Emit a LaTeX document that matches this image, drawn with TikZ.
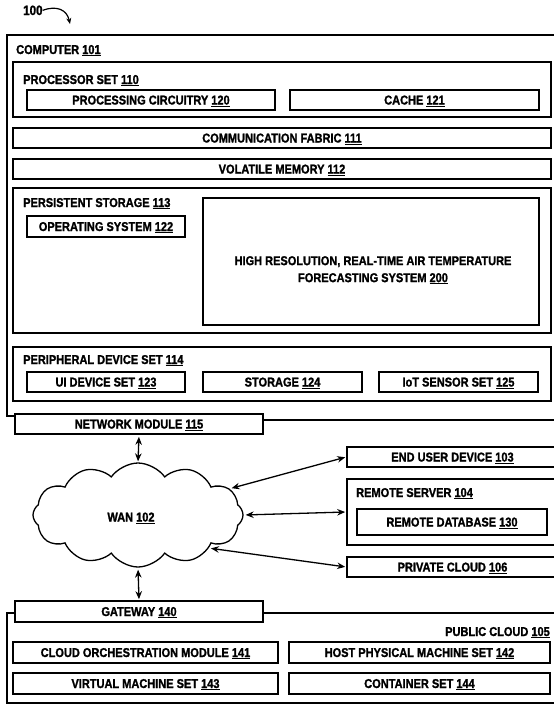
\documentclass[tikz,border=0pt]{standalone}
\usepackage{fontspec}
\setmainfont{Liberation Sans}[FakeStretch=0.86, BoldFeatures={FakeBold=1.4}]
\usetikzlibrary{shapes.symbols,arrows.meta}
\newcommand\refnum[1]{\underline{#1}}
\newcommand\lblfont{\fontsize{12.8}{17}\selectfont\bfseries}
\begin{document}
\begin{tikzpicture}[x=1pt,y=-1pt,
  frame/.style={line width=1.6pt},
  box/.style={draw, line width=1.6pt, inner sep=0pt, font=\lblfont,
    text height=9pt, text depth=0pt},
  head/.style={font=\lblfont, inner sep=0pt, anchor=base west},
  link/.style={{Stealth[length=8pt,width=6.5pt]}-{Stealth[length=8pt,width=6.5pt]},
    line width=1.3pt, shorten <=2pt, shorten >=1pt}]
\clip (0,0) rectangle (554,704);
\fill[white] (0,0) rectangle (554,704);

% figure reference
\node[head, font=\fontsize{13.5}{17}\selectfont\bfseries] (fig) at (23,15) {100};
\coordinate (figtip) at (70,24);
\draw[line width=1.2pt, -{Stealth[length=6pt,width=5pt]}]
  (fig.east) .. controls (57,5) and (67,10) .. (figtip);

% computer 101
\draw[frame] (15,416) -- (7,416) -- (7,35) -- (560,35);
\draw[frame] (263,420) -- (560,420);
\node[head] (comp) at (16,54) {COMPUTER \refnum{101}};

% processor set
\node[box, minimum width=538pt, minimum height=55pt] (procset) at (282,89.5) {};
\node[head] (procsetlbl) at (23,84) {PROCESSOR SET \refnum{110}};
\node[box, minimum width=248pt, minimum height=20pt] (circ) at (151,100) {PROCESSING CIRCUITRY \refnum{120}};
\node[box, minimum width=249pt, minimum height=20pt] (cache) at (414.5,100) {CACHE \refnum{121}};

\node[box, minimum width=538pt, minimum height=20pt] (fabric) at (282,138) {COMMUNICATION FABRIC \refnum{111}};
\node[box, minimum width=538pt, minimum height=20pt] (volatile) at (282,169) {VOLATILE MEMORY \refnum{112}};

% persistent storage
\node[box, minimum width=538pt, minimum height=145pt] (persist) at (282,260.5) {};
\node[head] (persistlbl) at (23,207) {PERSISTENT STORAGE \refnum{113}};
\node[box, minimum width=158pt, minimum height=21pt] (os) at (106,226.5) {OPERATING SYSTEM \refnum{122}};
\node[box, minimum width=336pt, minimum height=127pt] (forecast) at (371,261.5) {};
\node[font=\lblfont, inner sep=0pt, align=center, anchor=north] (forecastlbl) at (373,256)
  {HIGH RESOLUTION, REAL-TIME AIR TEMPERATURE\\FORECASTING SYSTEM \refnum{200}};

% peripheral device set
\node[box, minimum width=538pt, minimum height=54pt] (periph) at (282,374) {};
\node[head] (periphlbl) at (23,364) {PERIPHERAL DEVICE SET \refnum{114}};
\node[box, minimum width=158pt, minimum height=20pt] (ui) at (106,382) {UI DEVICE SET \refnum{123}};
\node[box, minimum width=159pt, minimum height=20pt] (storage) at (282.5,382) {STORAGE \refnum{124}};
\node[box, minimum width=159pt, minimum height=20pt] (iot) at (458.5,382) {IoT SENSOR SET \refnum{125}};

\node[box, minimum width=248pt, minimum height=20pt] (netmod) at (139,424) {NETWORK MODULE \refnum{115}};

% wide area network
\node[cloud, draw, line width=1.3pt, cloud puffs=12, cloud puff arc=110, aspect=2.05,
  minimum width=210pt, minimum height=104pt, inner sep=0pt] (wan) at (138,515) {};
\node[font=\lblfont, inner sep=0pt, text height=9pt, text depth=0pt] (wanlbl) at (131,517) {WAN \refnum{102}};

% remote systems
\node[box, minimum width=211pt, minimum height=20pt] (enduser) at (452.5,457) {END USER DEVICE \refnum{103}};
\node[box, minimum width=211pt, minimum height=66pt] (remote) at (452.5,512) {};
\node[head] (remotelbl) at (356,497) {REMOTE SERVER \refnum{104}};
\node[box, minimum width=190pt, minimum height=26pt] (remotedb) at (452,522) {REMOTE DATABASE \refnum{130}};
\node[box, minimum width=211pt, minimum height=20pt] (private) at (452.5,567) {PRIVATE CLOUD \refnum{106}};

% public cloud 105
\node[box, minimum width=248pt, minimum height=21pt] (gateway) at (139,611.5) {GATEWAY \refnum{140}};
\draw[frame] (15,613) -- (7,613) -- (7,703) -- (560,703);
\draw[frame] (263,613) -- (560,613);
\node[font=\lblfont, inner sep=0pt, anchor=base east] (publbl) at (550,636) {PUBLIC CLOUD \refnum{105}};
\node[box, minimum width=265pt, minimum height=21pt] (orch) at (145.5,652.5) {CLOUD ORCHESTRATION MODULE \refnum{141}};
\node[box, minimum width=261pt, minimum height=21pt] (host) at (419.5,652.5) {HOST PHYSICAL MACHINE SET \refnum{142}};
\node[box, minimum width=265pt, minimum height=21pt] (vm) at (145.5,683.5) {VIRTUAL MACHINE SET \refnum{143}};
\node[box, minimum width=261pt, minimum height=21pt] (container) at (419.5,683.5) {CONTAINER SET \refnum{144}};

% connections
\draw[link] (netmod.south) -- (wan.north);
\draw[link] (wan.south) -- (gateway.north);
\draw[link] (wan.16) -- (enduser.west);
\draw[link] (wan.east) -- (remote.west);
\draw[link] (wan.-25) -- (private.west);
\end{tikzpicture}
\end{document}
